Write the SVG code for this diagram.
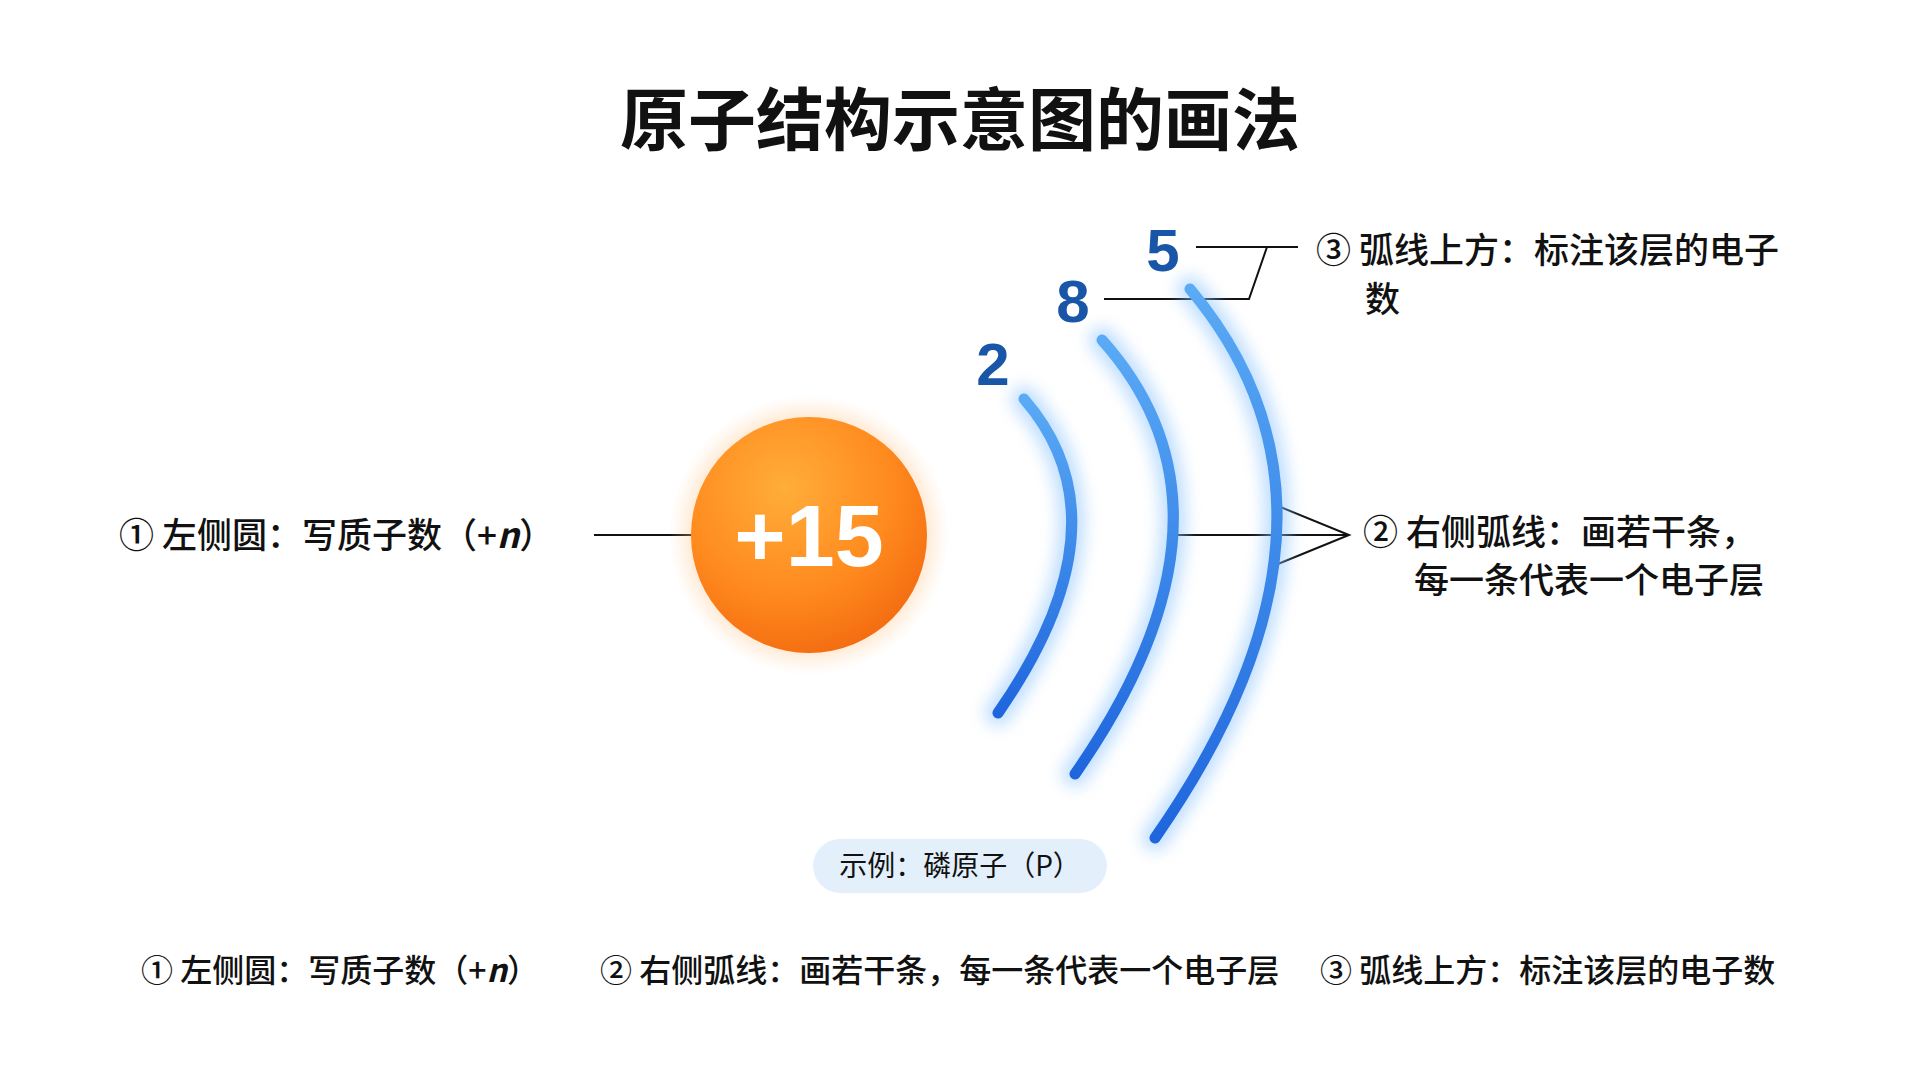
<svg xmlns="http://www.w3.org/2000/svg" width="1920" height="1072" viewBox="0 0 1920 1072">
<defs>
<style>
.t{font-family:"Noto Sans CJK SC","Noto Sans",sans-serif;fill:#111;}
.lbl{font-size:35px;font-weight:500;}
.bot{font-size:32px;font-weight:500;}
.num{font-family:"Liberation Sans",Arial,sans-serif;font-weight:bold;font-size:60px;fill:#1a56a8;text-anchor:middle;}
.ln{stroke:#111;stroke-width:2;fill:none;}
.arc{fill:none;stroke:url(#ag);stroke-width:11;stroke-linecap:round;}
.glow{fill:none;stroke:#8cc4ff;stroke-width:26;stroke-linecap:round;opacity:.55;filter:url(#bl);}
</style>
<linearGradient id="ag" x1="0" y1="0" x2="0" y2="1"><stop offset="0" stop-color="#5aaaf5"/><stop offset="1" stop-color="#1f66dd"/></linearGradient>
<radialGradient id="ng" cx="0.4" cy="0.3" r="0.75"><stop offset="0" stop-color="#ffad3a"/><stop offset="0.6" stop-color="#ff8a1e"/><stop offset="1" stop-color="#f26a10"/></radialGradient>
<radialGradient id="nh" cx="0.5" cy="0.5" r="0.5"><stop offset="0.7" stop-color="#ffb060" stop-opacity="0.6"/><stop offset="1" stop-color="#ffd0a0" stop-opacity="0"/></radialGradient>
<filter id="bl" x="-50%" y="-50%" width="200%" height="200%"><feGaussianBlur stdDeviation="8"/></filter>
</defs>
<rect width="1920" height="1072" fill="#fff"/>
<text class="t" x="960" y="145" font-size="68" font-weight="bold" text-anchor="middle">原子结构示意图的画法</text>
<g id="connectors">
<line class="ln" x1="594" y1="535" x2="692" y2="535"/>
<polyline class="ln" points="1196,247 1298,247"/>
<polyline class="ln" points="1104,299 1249,299 1267,247"/>
<line class="ln" x1="1173" y1="535" x2="1349" y2="535"/>
<polyline class="ln" points="1273,504 1349,535 1273,566"/>
</g>
<g id="nucleus">
<circle cx="809" cy="535" r="140" fill="url(#nh)"/>
<circle cx="809" cy="535" r="118" fill="url(#ng)"/>
<text x="809" y="566" font-family="Liberation Sans,Arial,sans-serif" font-size="88" font-weight="bold" fill="#fff" text-anchor="middle">+15</text>
</g>
<g id="shells">
<path class="glow" d="M1024,399 Q1131,522 998,713"/>
<path class="glow" d="M1102,340 Q1257,513 1075,774"/>
<path class="glow" d="M1190,289 Q1380,515 1155,838"/>
<path class="arc" d="M1024,399 Q1131,522 998,713"/>
<path class="arc" d="M1102,340 Q1257,513 1075,774"/>
<path class="arc" d="M1190,289 Q1380,515 1155,838"/>
</g>
<g id="numbers">
<text class="num" x="993" y="385">2</text>
<text class="num" x="1073" y="322">8</text>
<text class="num" x="1163" y="271">5</text>
</g>
<g id="label-left"><text class="t lbl" x="119" y="548">① 左侧圆：写质子数（+<tspan font-style="italic" font-weight="bold">n</tspan>）</text></g>
<g id="label-top"><text class="t lbl" x="1316" y="263">③ 弧线上方：标注该层的电子</text><text class="t lbl" x="1365" y="312">数</text></g>
<g id="label-right"><text class="t lbl" x="1363" y="545">② 右侧弧线：画若干条，</text><text class="t lbl" x="1414" y="593">每一条代表一个电子层</text></g>
<g id="example">
<rect x="813" y="839" width="294" height="54" rx="27" fill="#e3f0fb"/>
<text class="t" x="960" y="876" font-size="28" text-anchor="middle">示例：磷原子（P）</text>
</g>
<g id="bottom">
<text class="t bot" x="141" y="982">① 左侧圆：写质子数（+<tspan font-style="italic" font-weight="bold">n</tspan>）</text>
<text class="t bot" x="600" y="982">② 右侧弧线：画若干条，每一条代表一个电子层</text>
<text class="t bot" x="1320" y="982">③ 弧线上方：标注该层的电子数</text>
</g>
</svg>
